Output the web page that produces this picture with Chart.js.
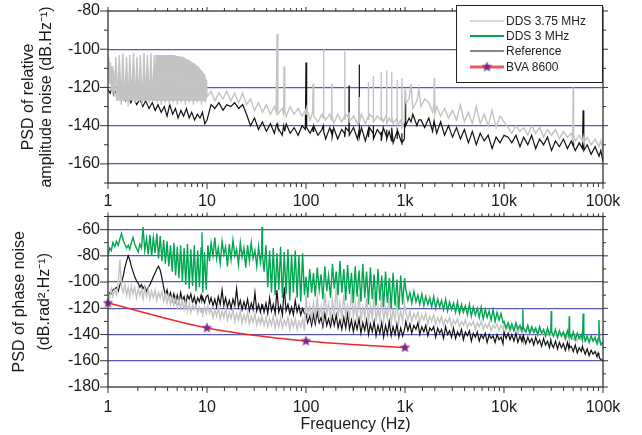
<!DOCTYPE html>
<html>
<head>
<meta charset="utf-8">
<script src="https://cdn.jsdelivr.net/npm/chart.js@4.4.1/dist/chart.umd.min.js"></script>
<style>
    html, body { margin: 0; padding: 0; background: #fff; }
    #wrap { position: relative; width: 642px; height: 435px; overflow: hidden; font-family: "Liberation Sans", Arial, Helvetica, sans-serif; }
    #ampChart { position: absolute; left: 0; top: 0; }
    #phaseChart { position: absolute; left: 0; top: 210px; }
    #legend { position: absolute; left: 456px; top: 5px; width: 147px; height: 78px; box-sizing: border-box; border: 1px solid #222; background: #fff; padding-top: 7px; }
    .row { display: flex; align-items: center; height: 15.4px; font-size: 12px; color: #222; white-space: nowrap; }
    .row canvas { margin-left: 13px; margin-right: 2px; }
</style>
</head>
<body>
<div id="wrap">
    <canvas id="ampChart" width="642" height="215"></canvas>
    <canvas id="phaseChart" width="642" height="225"></canvas>
    <div id="legend"></div>
</div>
<script>
//AXIS LABELS
var decadeValues = [1, 10, 100, 1000, 10000, 100000];
var decadeLabels = ['1', '10', '100', '1k', '10k', '100k'];

//TOP PANEL DATA (dB.Hz-1)
var ampGreyLowFreq = [1, 1.02, 1.04, 1.06, 1.08, 1.1, 1.12, 1.14, 1.17,
    1.20, 1.25, 1.30, 1.36, 1.41, 1.47, 1.54, 1.60, 1.66, 1.73,
    1.81, 1.88, 1.96, 2.04, 2.12, 2.21, 2.31, 2.40, 2.50, 2.61,
    2.71, 2.83, 2.94,
    3.00, 3.07, 3.14, 3.22, 3.29, 3.37, 3.45, 3.53, 3.61, 3.70,
    3.79, 3.88, 3.97, 4.06, 4.16, 4.26, 4.36, 4.46, 4.57, 4.68,
    4.79, 4.90, 5.01, 5.13, 5.25, 5.38, 5.50, 5.63, 5.77, 5.90,
    6.04, 6.19, 6.33, 6.48, 6.64, 6.79, 6.95, 7.12, 7.29, 7.46,
    7.64, 7.82, 8.00, 8.19, 8.39, 8.59, 8.79, 9.00, 9.21, 9.43,
    9.66, 9.89];
var ampGreyLowDb = [-112, -104, -118, -107, -122, -109, -124, -111, -125,
    -104, -126, -103, -129, -102, -127, -104, -130, -103, -126,
    -102, -128, -104, -127, -103, -129, -102, -126, -103, -128,
    -102, -127, -103,
    -127, -103, -128, -103, -126, -103, -129, -103, -127, -103,
    -128, -103, -126, -103, -129, -103, -127, -103, -128, -103,
    -126, -103.5, -129, -103.5, -127, -104, -128, -104, -126, -104.5,
    -129, -105, -127, -105.5, -128, -106, -126, -107, -129, -107.5,
    -127, -108.5, -128, -109, -126, -110.5, -129, -111.5, -127, -113,
    -128, -116];
var combFloorDb = -127;

var ampRefLowFreq = [1, 1.05, 1.1, 1.15, 1.2, 1.3, 1.4, 1.5, 1.6, 1.7,
    1.8, 1.95, 2.1, 2.25, 2.4, 2.6, 2.8, 3.0, 3.2, 3.45,
    3.7, 3.95, 4.2, 4.5, 4.8, 5.1, 5.45, 5.8, 6.2, 6.6,
    7.0, 7.5, 8.0, 8.5, 9.0, 9.5];
var ampRefLowDb = [-121, -123, -120, -124, -122, -125, -123, -127, -124, -128,
    -125, -129, -126, -130, -127, -131, -128, -132, -129, -133,
    -130, -135, -129, -134, -131, -136, -132, -135, -131, -136,
    -133, -137, -134, -136, -133, -139];

var ampFreq = [10, 11, 12, 13.2, 14.5, 15.8, 17.4, 19, 20.9, 22.9,
    25.1, 27.5, 30.2, 33.1, 36.3, 39.8, 43.7, 47.9, 50, 51,
    52, 57.5, 59.5, 60, 61, 63.1, 69.2, 75.9, 83.2, 91.2,
    98.5, 100, 101.5, 110, 117, 118, 119.5, 132, 145, 149,
    150, 151.5, 158, 174, 181, 182, 183.5, 190, 209, 229,
    245, 246, 247.5, 251, 271, 272, 273.5, 302, 331, 344,
    345, 346.5, 363, 398, 426, 427, 428.5, 437, 478, 479,
    480.5, 525, 574, 575, 576.5, 603, 652, 653, 654.5, 692,
    732, 733, 734.5, 759, 832, 834, 836, 912, 929, 930,
    932, 985, 1000, 1015, 1100, 1150, 1200, 1320, 1380, 1450,
    1580, 1740, 1900, 1960, 1977, 1995, 2090, 2290, 2510, 2750,
    3020, 3310, 3630, 3980, 4370, 4790, 5250, 5750, 6310, 6920,
    7590, 8320, 9120, 10000, 11000, 12000, 13200, 14500, 15800, 17400,
    19000, 20900, 22900, 25100, 27500, 30200, 33100, 36300, 39800, 43700,
    47900, 49500, 50000, 50500, 52500, 57500, 62000, 63000, 64000, 69200,
    75900, 83200, 91200, 95000, 100000];
var ampGreyHighDb = [-125, -122, -127, -123, -126, -122, -127, -123, -128, -123,
    -129, -126, -132, -128, -133, -129, -134, -130, -133, -92,
    -134, -131, -134, -109, -132, -135, -130, -134, -131, -135,
    -132, -134, -131, -137, -133, -118, -135, -138, -134, -136,
    -100, -135, -137, -134, -137, -118, -135, -139, -134, -138,
    -135, -101, -137, -134, -136, -133, -138, -135, -139, -136,
    -125, -138, -134, -139, -135, -117, -137, -134, -136, -114,
    -138, -135, -137, -112, -135, -138, -134, -111, -139, -136,
    -138, -112, -135, -139, -136, -116, -140, -137, -139, -115,
    -141, -138, -121, -128, -126, -118, -131, -127, -121, -130,
    -126, -128, -133, -129, -115, -134, -130, -135, -131, -136,
    -132, -137, -129, -138, -133, -139, -130, -139, -134, -140,
    -132, -141, -135, -138, -141, -144, -140, -143, -141, -145,
    -140, -144, -141, -146, -142, -145, -142, -147, -143, -146,
    -144, -147, -120, -145, -148, -145, -148, -146, -149, -146,
    -150, -147, -151, -148, -153];
var ampRefHighDb = [-137, -129, -131, -128, -132, -129, -130, -128, -131, -129,
    -134, -140, -136, -142, -138, -143, -139, -144, -140, -139,
    -141, -145, -140, -141, -143, -139, -144, -141, -145, -140,
    -142, -107, -141, -144, -141, -143, -140, -145, -142, -140,
    -141, -143, -147, -141, -144, -142, -146, -141, -147, -142,
    -144, -143, -146, -141, -143, -119, -145, -141, -147, -142,
    -108, -146, -141, -148, -142, -143, -146, -141, -144, -140,
    -147, -142, -145, -143, -148, -141, -146, -142, -147, -143,
    -148, -144, -141, -149, -143, -147, -142, -148, -144, -146,
    -149, -147, -127, -140, -136, -138, -134, -140, -137, -137,
    -141, -136, -143, -138, -140, -139, -144, -138, -145, -140,
    -146, -141, -147, -142, -149, -143, -150, -144, -148, -145,
    -152, -146, -149, -145, -146, -149, -145, -151, -146, -150,
    -145, -152, -147, -150, -146, -153, -148, -151, -147, -152,
    -148, -150, -149, -151, -153, -149, -152, -132, -153, -150,
    -155, -151, -156, -153, -159];

//BOTTOM PANEL DATA (dB.rad2.Hz-1)
var phaseFreq = [1.00, 1.04, 1.08, 1.12, 1.17, 1.22, 1.27, 1.32, 1.37, 1.42,
    1.48, 1.54, 1.60, 1.66, 1.72, 1.79, 1.86, 1.94, 2.02, 2.10,
    2.18, 2.26, 2.35, 2.45, 2.55, 2.65, 2.76, 2.87, 2.99, 3.11,
    3.24, 3.37, 3.51, 3.65, 3.80, 3.95, 4.11, 4.28, 4.45, 4.63,
    4.82, 5.01, 5.21, 5.42, 5.64, 5.87, 6.10, 6.35, 6.61, 6.87,
    7.15, 7.44, 7.74, 8.05, 8.38, 8.72, 8.90, 9.07, 9.44, 9.82,
    10.2, 10.6, 11.0, 11.5, 12.0, 12.5, 13.0, 13.6, 14.2, 14.8,
    15.4, 16.1, 16.8, 17.5, 18.3, 19.1, 19.9, 20.8, 21.7, 22.6,
    23.6, 24.6, 25.7, 26.8, 28.0, 29.2, 30.5, 31.8, 33.2, 34.6,
    35.6, 36.0, 36.4, 37.7, 39.4, 41.1, 42.9, 44.8, 46.7, 48.8,
    50.9, 53.1, 55.4, 57.8, 60.3, 62.9, 65.7, 68.5, 71.5, 74.6,
    77.9, 81.3, 84.8, 88.5, 92.4, 96.4,
    100, 104, 109, 114, 119, 124, 130, 136, 142, 148,
    155, 162, 169, 177, 185, 193, 202, 211, 220, 230,
    241, 252, 263, 275, 288, 301, 314, 328, 343, 359,
    375, 392, 409, 428, 447, 467, 488, 510, 533, 557,
    582, 608, 636, 664, 694, 726, 758, 793, 828, 866,
    905, 946, 990,
    1020, 1070, 1120, 1170, 1230, 1290, 1350, 1410, 1480, 1550,
    1620, 1700, 1780, 1860, 1950, 2040, 2140, 2240, 2340, 2450,
    2570, 2690, 2820, 2950, 3090, 3240, 3390, 3550, 3720, 3890,
    4070, 4270, 4470, 4680, 4900, 5130, 5370, 5620, 5890, 6170,
    6460, 6760, 7080, 7410, 7760, 8130, 8510, 8910, 9330, 9770,
    10000, 10500, 11000, 11500, 12000, 12600, 13200, 13800, 14500, 15100,
    15300, 15500, 15700, 16600, 17400, 18200, 19100, 20000, 20900, 21900,
    22900, 24000, 25100, 26300, 27500, 28800, 29700, 30000, 30300, 31600,
    33100, 34700, 36300, 38000, 39800, 41700, 43700, 45200, 45600, 46000,
    47900, 50100, 52500, 55000, 57500, 60300, 62000, 63000, 64000, 66100,
    69200, 72400, 75900, 79400, 83200, 87100, 89500, 91000, 92500, 95500,
    100000];
var phaseGreen = [-80, -74, -76, -70, -73, -69, -72, -67, -63, -68,
    -71, -74, -72, -75, -70, -66, -71, -74, -77, -71,
    -74, -58, -76, -67, -79, -64, -80, -66, -78, -63,
    -82, -65, -84, -68, -86, -69, -88, -72, -92, -70,
    -95, -73, -97, -72, -100, -74, -102, -71, -105, -75,
    -103, -72, -107, -76, -104, -74, -62, -108, -77, -106,
    -72, -84, -70, -80, -66, -82, -74, -86, -69, -79,
    -73, -88, -71, -83, -68, -80, -75, -87, -70, -81,
    -74, -89, -72, -84, -70, -82, -76, -88, -73, -85,
    -78, -58, -80, -92, -72, -104, -76, -108, -74, -110,
    -78, -106, -73, -112, -77, -109, -75, -114, -79, -108,
    -76, -112, -80, -115, -78, -110,
    -96, -112, -90, -108, -93, -111, -89, -106, -94, -113,
    -88, -107, -95, -112, -86, -105, -92, -110, -84, -108,
    -90, -114, -87, -109, -93, -116, -88, -111, -91, -115,
    -86, -112, -92, -117, -89, -113, -94, -118, -90, -114,
    -95, -119, -92, -116, -97, -120, -93, -118, -98, -121,
    -95, -117, -97,
    -106, -114, -108, -116, -107, -115, -110, -117, -109, -118,
    -111, -117, -112, -119, -111, -120, -113, -119, -114, -121,
    -113, -122, -115, -121, -116, -123, -115, -124, -117, -123,
    -118, -125, -117, -126, -119, -125, -120, -127, -119, -128,
    -121, -127, -122, -129, -121, -130, -123, -129, -124, -131,
    -130, -135, -131, -136, -132, -137, -131, -136, -133, -137,
    -134, -121, -135, -138, -133, -139, -134, -138, -135, -140,
    -134, -139, -136, -141, -135, -140, -137, -122, -138, -141,
    -136, -142, -137, -141, -138, -143, -137, -141, -126, -139,
    -143, -138, -144, -139, -143, -140, -144, -124, -140, -145,
    -141, -146, -141, -145, -142, -147, -143, -129, -144, -148,
    -146];
var phaseGrey = [-108, -112, -105, -111, -106, -110, -100, -83, -104, -108,
    -102, -110, -104, -111, -103, -109, -104, -112, -105, -110,
    -106, -113, -104, -111, -105, -113, -107, -112, -106, -114,
    -108, -112, -107, -115, -109, -116, -110, -117, -111, -118,
    -112, -119, -113, -120, -114, -121, -115, -122, -116, -123,
    -117, -121, -118, -124, -119, -123, -120, -125, -119, -124,
    -118, -124, -120, -127, -121, -126, -119, -128, -122, -127,
    -120, -129, -123, -128, -121, -130, -124, -129, -122, -131,
    -125, -130, -123, -132, -126, -131, -124, -133, -127, -132,
    -126, -130, -128, -133, -127, -134, -128, -133, -126, -135,
    -128, -134, -127, -135, -129, -133, -127, -136, -129, -134,
    -128, -136, -130, -134, -128, -137,
    -110, -126, -118, -128, -116, -127, -112, -126, -119, -129,
    -108, -125, -117, -128, -114, -126, -104, -127, -116, -128,
    -110, -126, -118, -129, -106, -127, -117, -128, -109, -129,
    -119, -127, -112, -130, -118, -128, -108, -130, -119, -129,
    -110, -130, -120, -128, -112, -131, -121, -129, -114, -131,
    -122, -130, -116,
    -123, -129, -122, -130, -124, -128, -123, -131, -125, -129,
    -124, -132, -126, -130, -125, -132, -127, -131, -126, -133,
    -128, -131, -127, -134, -129, -132, -128, -134, -130, -133,
    -129, -135, -131, -133, -130, -136, -131, -134, -130, -136,
    -132, -135, -131, -137, -133, -135, -132, -137, -133, -136,
    -132, -137, -133, -138, -134, -137, -133, -139, -135, -138,
    -136, -137, -135, -139, -134, -140, -136, -139, -137, -141,
    -136, -140, -138, -142, -137, -141, -139, -140, -138, -142,
    -139, -143, -138, -142, -140, -144, -139, -143, -141, -140,
    -142, -144, -141, -145, -142, -144, -141, -143, -142, -145,
    -143, -146, -142, -145, -144, -147, -143, -145, -144, -146,
    -147];
var phaseRef = [-110, -108, -109, -106, -105, -104, -107, -102, -100, -96,
    -89, -84, -80, -83, -88, -92, -96, -99, -101, -104,
    -102, -105, -103, -107, -104, -102, -99, -96, -93, -90,
    -88, -91, -97, -104, -110, -106, -112, -108, -114, -109,
    -115, -110, -116, -108, -114, -111, -117, -110, -113, -109,
    -116, -111, -117, -112, -115, -110, -114, -112, -116, -111,
    -110, -116, -112, -118, -113, -119, -111, -117, -106, -118,
    -112, -119, -114, -120, -113, -118, -105, -119, -114, -121,
    -115, -120, -113, -122, -116, -121, -108, -122, -117, -123,
    -118, -120, -117, -123, -116, -124, -112, -122, -117, -124,
    -106, -123, -118, -125, -104, -122, -117, -124, -119, -125,
    -114, -123, -118, -125, -120, -124,
    -124, -131, -126, -133, -125, -132, -123, -131, -127, -134,
    -124, -133, -128, -134, -126, -133, -125, -135, -129, -136,
    -127, -135, -124, -136, -129, -138, -130, -136, -128, -139,
    -131, -137, -129, -140, -132, -138, -130, -141, -133, -139,
    -131, -142, -133, -140, -130, -141, -134, -140, -132, -142,
    -135, -141, -136,
    -130, -137, -132, -139, -133, -136, -131, -140, -134, -138,
    -133, -141, -135, -137, -134, -142, -135, -139, -136, -143,
    -134, -140, -137, -142, -135, -143, -138, -141, -136, -144,
    -138, -141, -137, -145, -139, -142, -138, -145, -140, -143,
    -139, -146, -140, -143, -141, -146, -140, -144, -142, -147,
    -138, -143, -139, -144, -140, -145, -139, -146, -141, -145,
    -142, -144, -141, -147, -142, -146, -143, -148, -142, -147,
    -144, -149, -143, -148, -145, -150, -144, -146, -147, -150,
    -145, -151, -146, -150, -147, -152, -146, -151, -148, -150,
    -149, -153, -148, -154, -150, -153, -149, -151, -152, -155,
    -151, -156, -152, -155, -153, -157, -154, -156, -158, -159,
    -160];

var bvaFreq = [1, 10, 100, 1000];
var bvaDb = [-116, -135, -145, -150];

//STYLE CONFIG
var GREY = '#c3c3c3';
var GREEN = '#00a650';
var BLACK = '#111111';
var RED = '#f02828';
var PURPLE = '#7d2a8c';
var GRID_BLUE = 'rgba(60,60,165,0.85)';
var FRAME = '#333333';

Chart.defaults.font.family = '"Liberation Sans", Arial, Helvetica, sans-serif';
Chart.defaults.font.size = 16;
Chart.defaults.color = '#1a1a1a';

function toPoints(freqs, values) {
    return freqs.map(function(f, i) {
        return {x: f, y: values[i]};
    });
}

// keep only the comb tops (3-10 Hz part, odd positions) so the fill looks solid there
function combTops(freqs, values) {
    var pts = [];
    freqs.forEach(function(f, i) {
        if (i >= 33 && i % 2 === 1) pts.push({x: f, y: values[i]});
    });
    return pts;
}

function makeStar(r, color) {
    var c = document.createElement('canvas');
    c.width = c.height = 2 * r + 2;
    var g = c.getContext('2d');
    g.beginPath();
    for (var i = 0; i < 10; i++) {
        var rad = i % 2 === 0 ? r : r * 0.45;
        var a = -Math.PI / 2 + i * Math.PI / 5;
        var px = r + 1 + rad * Math.cos(a);
        var py = r + 1 + rad * Math.sin(a);
        if (i === 0) g.moveTo(px, py); else g.lineTo(px, py);
    }
    g.closePath();
    g.fillStyle = color;
    g.fill();
    return c;
}
var starImg = makeStar(5.5, PURPLE);

//FRAME + TICK MARKS (ORIGIN STYLE)
var frameTicks = {
    id: 'frameTicks',
    afterDatasetsDraw: function(chart) {
        var ctx = chart.ctx;
        var a = chart.chartArea;
        var x = chart.scales.x;
        var y = chart.scales.y;
        ctx.save();
        ctx.strokeStyle = FRAME;
        ctx.lineWidth = 1.3;
        ctx.strokeRect(a.left, a.top, a.right - a.left, a.bottom - a.top);
        ctx.lineWidth = 1;
        ctx.beginPath();
        x.ticks.forEach(function(t) {
            var px = x.getPixelForValue(t.value);
            var major = decadeValues.indexOf(t.value) >= 0;
            ctx.moveTo(px, a.bottom);
            ctx.lineTo(px, a.bottom + (major ? 6 : 4));
            ctx.moveTo(px, a.top);
            ctx.lineTo(px, a.top - (major ? 4 : 3));
        });
        y.ticks.forEach(function(t) {
            var py = y.getPixelForValue(t.value);
            var major = Math.abs(t.value) % 20 === 0;
            ctx.moveTo(a.left, py);
            ctx.lineTo(a.left - (major ? 8 : 4), py);
            ctx.moveTo(a.right, py);
            ctx.lineTo(a.right + (major ? 5 : 3), py);
        });
        ctx.stroke();
        ctx.restore();
    }
};

function makeOptions(o) {
    return {
        responsive: false,
        animation: false,
        events: [],
        layout: { padding: { top: o.padTop, right: 39, bottom: 0, left: 0 } },
        plugins: { legend: { display: false }, tooltip: { enabled: false } },
        elements: { line: { borderWidth: 1, tension: 0 }, point: { radius: 0 } },
        scales: {
            x: {
                type: 'logarithmic',
                min: 1,
                max: 100000,
                grid: { display: false, drawTicks: false },
                border: { display: false },
                ticks: {
                    autoSkip: false,
                    maxRotation: 0,
                    minRotation: 0,
                    padding: o.xLabelPad,
                    callback: function(v) {
                        var i = decadeValues.indexOf(v);
                        return i >= 0 ? decadeLabels[i] : '';
                    }
                },
                title: {
                    display: !!o.xTitle,
                    text: o.xTitle || '',
                    padding: { top: 0, bottom: 1 }
                },
                afterFit: function(scale) {
                    scale.height = o.xHeight;
                    scale.paddingLeft = 0;
                    scale.paddingRight = 0;
                }
            },
            y: {
                type: 'linear',
                min: o.yMin,
                max: o.yMax,
                border: { display: false },
                grid: {
                    drawTicks: false,
                    lineWidth: 1.2,
                    color: function(c) {
                        var v = c.tick.value;
                        return (Math.abs(v) % 20 === 0 && v !== o.yMin && v !== o.yMax) ? GRID_BLUE : 'rgba(0,0,0,0)';
                    }
                },
                ticks: {
                    autoSkip: false,
                    stepSize: 10,
                    padding: 8,
                    callback: function(v) {
                        return Math.abs(v) % 20 === 0 ? String(v) : '';
                    }
                },
                title: {
                    display: true,
                    text: o.yTitle,
                    font: { size: 16, lineHeight: o.titleLH },
                    padding: { top: o.titlePad, bottom: 0 }
                },
                afterFit: function(scale) {
                    scale.width = 108;
                    scale.paddingTop = 0;
                    scale.paddingBottom = 0;
                }
            }
        }
    };
}

//TOP CHART: AMPLITUDE NOISE
var ampChart = new Chart(document.getElementById('ampChart').getContext('2d'), {
    type: 'line',
    data: {
        datasets: [{
            label: 'DDS 3.75 MHz',
            data: toPoints(ampGreyLowFreq.concat(ampFreq), ampGreyLowDb.concat(ampGreyHighDb)),
            borderColor: GREY,
            borderWidth: 1.4
        }, {
            // the dense 1.2-10 Hz comb of the same trace, filled down to its floor
            label: 'DDS 3.75 MHz comb',
            data: toPoints(ampGreyLowFreq.slice(9), ampGreyLowDb.slice(9)),
            borderColor: 'rgba(0,0,0,0)',
            borderWidth: 0,
            backgroundColor: GREY,
            fill: { target: { value: combFloorDb }, above: GREY, below: GREY }
        }, {
            label: 'DDS 3.75 MHz comb tops',
            data: combTops(ampGreyLowFreq, ampGreyLowDb),
            borderColor: 'rgba(0,0,0,0)',
            borderWidth: 0,
            backgroundColor: GREY,
            fill: { target: { value: combFloorDb }, above: GREY, below: GREY }
        }, {
            label: 'Reference',
            data: toPoints(ampRefLowFreq.concat(ampFreq), ampRefLowDb.concat(ampRefHighDb)),
            borderColor: BLACK,
            borderWidth: 1.2
        }]
    },
    options: makeOptions({
        padTop: 11, yMin: -170, yMax: -80, xHeight: 32, xLabelPad: 9,
        yTitle: ['PSD of relative', 'amplitude noise (dB.Hz\u207B\u00B9)'],
        titleLH: 1.15, titlePad: 19
    }),
    plugins: [frameTicks]
});

//BOTTOM CHART: PHASE NOISE
var phaseChart = new Chart(document.getElementById('phaseChart').getContext('2d'), {
    type: 'line',
    data: {
        datasets: [{
            label: 'BVA 8600',
            data: toPoints(bvaFreq, bvaDb),
            borderColor: RED,
            borderWidth: 1.5,
            cubicInterpolationMode: 'monotone',
            pointStyle: starImg,
            pointRadius: 5,
            clip: false
        }, {
            label: 'DDS 3 MHz',
            data: toPoints(phaseFreq, phaseGreen),
            borderColor: GREEN,
            borderWidth: 1.4
        }, {
            label: 'DDS 3.75 MHz',
            data: toPoints(phaseFreq, phaseGrey),
            borderColor: GREY,
            borderWidth: 1.4
        }, {
            label: 'Reference',
            data: toPoints(phaseFreq, phaseRef),
            borderColor: BLACK,
            borderWidth: 1.2
        }]
    },
    options: makeOptions({
        padTop: 5, yMin: -180, yMax: -50, xHeight: 48, xLabelPad: 11,
        xTitle: 'Frequency (Hz)',
        yTitle: ['PSD of phase noise', '(dB.rad\u00B2.Hz\u207B\u00B9)'],
        titleLH: 1.55, titlePad: 7
    }),
    plugins: [frameTicks]
});

//HTML LEGEND
var legendOrder = ['DDS 3.75 MHz', 'DDS 3 MHz', 'Reference', 'BVA 8600'];
var legendColors = ['#d6d6d6', GREEN, BLACK, '#f25858'];
var legendWidths = [2, 2, 1, 3];
var legendBox = document.getElementById('legend');
legendOrder.forEach(function(name, i) {
    var ds = phaseChart.data.datasets.filter(function(d) { return d.label === name; })[0];
    var row = document.createElement('div');
    row.className = 'row';
    var sample = document.createElement('canvas');
    sample.width = 34;
    sample.height = 12;
    var g = sample.getContext('2d');
    g.strokeStyle = legendColors[i];
    g.lineWidth = legendWidths[i];
    g.beginPath();
    g.moveTo(0, 6);
    g.lineTo(34, 6);
    g.stroke();
    if (ds.pointStyle === starImg) {
        g.drawImage(starImg, 17 - starImg.width / 2, 6 - starImg.height / 2);
    }
    var label = document.createElement('span');
    label.textContent = ds.label;
    row.appendChild(sample);
    row.appendChild(label);
    legendBox.appendChild(row);
});
</script>
</body>
</html>
